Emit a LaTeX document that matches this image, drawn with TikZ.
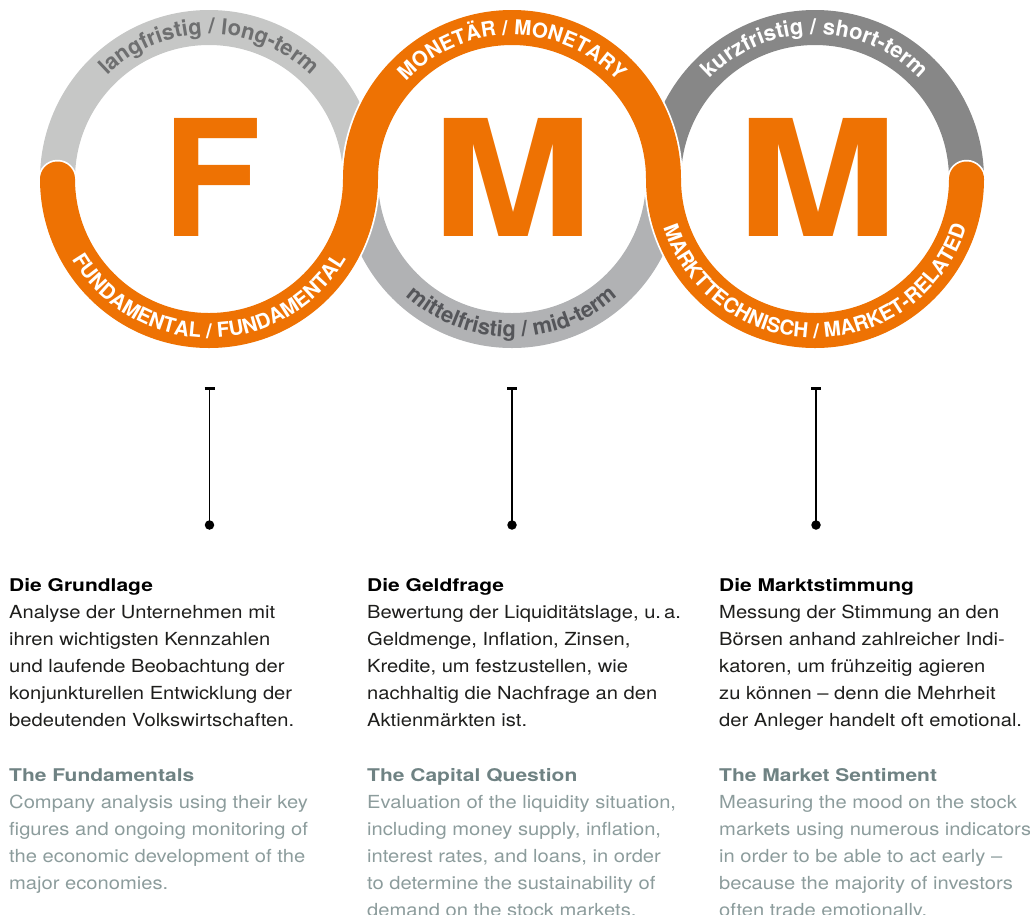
\documentclass[tikz,border=0pt]{standalone}
\usepackage{fontspec}
\usepackage{graphicx}
\usetikzlibrary{decorations.text,arrows.meta,calc}
\setmainfont{TeX Gyre Heros}
\newfontfamily\ringfont{TeX Gyre Heros}
\newfontfamily\bodyfont{TeX Gyre Heros}[FakeStretch=1.12]
\newfontfamily\headfont{TeX Gyre Heros}[FakeStretch=1.2]
\definecolor{fmmorange}{HTML}{EE7203}
\definecolor{ringA}{HTML}{C6C7C6}
\definecolor{ringB}{HTML}{B1B2B4}
\definecolor{ringC}{HTML}{878787}
\definecolor{txtA}{HTML}{6E6F70}
\definecolor{txtB}{HTML}{55565A}
\definecolor{deText}{HTML}{1E1E1C}
\definecolor{enHead}{HTML}{6F8283}
\definecolor{enText}{HTML}{8C9C9C}
\newcommand\capsring{\ringfont\bfseries\fontsize{20.5}{20.5}\selectfont}
\newcommand\lowring{\ringfont\bfseries\fontsize{22}{22}\selectfont}
\newcommand\dehead{\headfont\bfseries\fontsize{17.5}{27}\selectfont}
\tikzset{
  ringband/.style={line width=35pt},
  halo/.style={line width=38.5pt, draw=white, line cap=round},
  orangeband/.style={line width=35pt, draw=fmmorange, line cap=round},
  bigletter/.style={text=fmmorange, inner sep=0pt, font=\ringfont\bfseries\fontsize{162}{162}\selectfont},
  stem/.style={line width=1.3pt, draw=black},
  dotnode/.style={circle, fill=black, inner sep=0pt, minimum size=9.5pt},
  detext/.style={anchor=north west, inner sep=0pt, align=left, text=deText, font=\bodyfont\fontsize{18}{27}\selectfont},
  entext/.style={anchor=north west, inner sep=0pt, align=left, text=enText, font=\bodyfont\fontsize{18}{27}\selectfont},
}
\begin{document}
\begin{tikzpicture}[x=1pt,y=1pt]
\useasboundingbox (0,0) rectangle (1030,-914);
\coordinate (cL) at (209,-179);
\coordinate (cM) at (512,-179);
\coordinate (cR) at (815,-179);
% gray half rings
\draw[ringband, draw=ringA] ($(cL)+(180:151.5)$) arc[start angle=180, end angle=0, radius=151.5];
\draw[ringband, draw=ringB] ($(cM)+(180:151.5)$) arc[start angle=180, end angle=360, radius=151.5];
\draw[ringband, draw=ringC] ($(cR)+(180:151.5)$) arc[start angle=180, end angle=0, radius=151.5];
% orange S band with white halo
\draw[halo] ($(cL)+(180:151.5)$) arc[start angle=180, end angle=360, radius=151.5]
  arc[start angle=180, end angle=0, radius=151.5]
  arc[start angle=180, end angle=360, radius=151.5];
\draw[orangeband] ($(cL)+(180:151.5)$) arc[start angle=180, end angle=360, radius=151.5]
  arc[start angle=180, end angle=0, radius=151.5]
  arc[start angle=180, end angle=360, radius=151.5];
% ring texts
\path[decorate, decoration={text along path, text align=center,
  text={|\lowring\color{txtA}|langfristig / long-term}}]
  ($(cL)+(170:145)$) arc[start angle=170, end angle=10, radius=145];
\path[decorate, decoration={text along path, text align=center,
  text={|\capsring\color{white}|MONETÄR / MONETARY}}]
  ($(cM)+(170:144)$) arc[start angle=170, end angle=10, radius=144];
\path[decorate, decoration={text along path, text align=center,
  text={|\lowring\color{white}|kurzfristig / short-term}}]
  ($(cR)+(170:145)$) arc[start angle=170, end angle=10, radius=145];
\path[decorate, decoration={text along path, text align=center,
  text={|\capsring\color{white}|FUNDAMENTAL / FUNDAMENTAL}}]
  ($(cL)+(185:159)$) arc[start angle=185, end angle=355, radius=159];
\path[decorate, decoration={text along path, text align=center,
  text={|\lowring\color{txtB}|mittelfristig / mid-term}}]
  ($(cM)+(185:158)$) arc[start angle=185, end angle=355, radius=158];
\path[decorate, decoration={text along path, text align=center,
  text={|\capsring\color{white}|MARKTTECHNISCH / MARKET-RELATED}}]
  ($(cR)+(185:159)$) arc[start angle=185, end angle=355, radius=159];
% big letters
\node[bigletter] (bigF) at (212,-177) {F};
\node[bigletter] (bigM1) at (512,-177) {\scalebox{1.2}[1]{M}};
\node[bigletter] (bigM2) at (817,-177) {\scalebox{1.2}[1]{M}};
% stems
\coordinate (t1) at (209.5,-387);
\coordinate (t2) at (512,-387);
\coordinate (t3) at (816,-387);
\node[dotnode] (d1) at (209.5,-525) {};
\node[dotnode] (d2) at (512,-525) {};
\node[dotnode] (d3) at (816,-525) {};
\draw[stem, {Bar[width=10pt,line width=2.5pt]}-] (t1) -- (d1.center);
\draw[stem, {Bar[width=10pt,line width=2.5pt]}-] (t2) -- (d2.center);
\draw[stem, {Bar[width=10pt,line width=2.5pt]}-] (t3) -- (d3.center);
% texts
\node[detext] (de1) at (9,-571) {\rule{0pt}{20pt}{\dehead\color{black}Die Grundlage}\\
Analyse der Unternehmen mit\\
ihren wichtigsten Kennzahlen\\
und laufende Beobachtung der\\
konjunkturellen Entwicklung der\\
bedeutenden Volkswirtschaften.};
\node[entext] (en1) at (9,-761) {\rule{0pt}{20pt}{\dehead\color{enHead}The Fundamentals}\\
Company analysis using their key\\
figures and ongoing monitoring of\\
the economic development of the\\
major economies.};
\node[detext] (de2) at (367,-571) {\rule{0pt}{20pt}{\dehead\color{black}Die Geldfrage}\\
Bewertung der Liquiditätslage, u.\,a.\\
Geldmenge, Inflation, Zinsen,\\
Kredite, um festzustellen, wie\\
nachhaltig die Nachfrage an den\\
Aktienmärkten ist.};
\node[entext] (en2) at (367,-761) {\rule{0pt}{20pt}{\dehead\color{enHead}The Capital Question}\\
Evaluation of the liquidity situation,\\
including money supply, inflation,\\
interest rates, and loans, in order\\
to determine the sustainability of\\
demand on the stock markets.};
\node[detext] (de3) at (719,-571) {\rule{0pt}{20pt}{\dehead\color{black}Die Marktstimmung}\\
Messung der Stimmung an den\\
Börsen anhand zahlreicher Indi-\\
katoren, um frühzeitig agieren\\
zu können – denn die Mehrheit\\
der Anleger handelt oft emotional.};
\node[entext] (en3) at (719,-761) {\rule{0pt}{20pt}{\dehead\color{enHead}The Market Sentiment}\\
Measuring the mood on the stock\\
markets using numerous indicators\\
in order to be able to act early –\\
because the majority of investors\\
often trade emotionally.};
\end{tikzpicture}
\end{document}
